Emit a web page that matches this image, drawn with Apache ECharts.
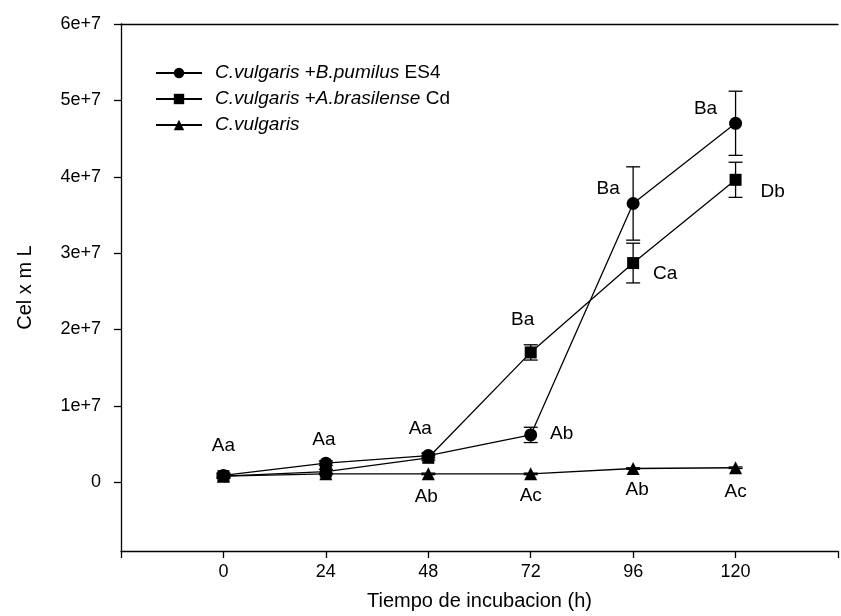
<!DOCTYPE html>
<html>
<head>
<meta charset="utf-8">
<script src="https://cdn.jsdelivr.net/npm/echarts@6/dist/echarts.min.js"></script>
<style>html,body{margin:0;padding:0;background:#fff;}#c{width:841px;height:616px;}</style>
</head>
<body>
<div id="c"></div>
<script>
// ---- data ----
var times = [0, 24, 48, 72, 96, 120];
var xTicks = [0, 24, 48, 72, 96, 120];
var yTicks = [0, 1e7, 2e7, 3e7, 4e7, 5e7, 6e7];
var pumilus = [0.9e6, 2.5e6, 3.5e6, 6.2e6, 3.65e7, 4.7e7];
var pumilusErr = [3e5, 3e5, 3e5, 1.0e6, 4.8e6, 4.2e6];
var brasilense = [0.8e6, 1.4e6, 3.2e6, 1.7e7, 2.87e7, 3.96e7];
var brasilenseErr = [3e5, 3e5, 3e5, 1.0e6, 2.6e6, 2.3e6];
var vulgaris = [0.8e6, 1.1e6, 1.1e6, 1.1e6, 1.8e6, 1.9e6];
var vulgarisErr = [1e5, 1e5, 1e5, 1e5, 1e5, 1e5];
var lettersPumilus = ['Aa', 'Aa', 'Aa', 'Ab', 'Ba', 'Ba'];
var lettersBrasilense = ['', '', '', 'Ba', 'Ca', 'Db'];
var lettersVulgaris = ['', '', 'Ab', 'Ac', 'Ab', 'Ac'];
var names = ['C.vulgaris +B.pumilus ES4', 'C.vulgaris +A.brasilense Cd', 'C.vulgaris'];

// ---- styling (label offsets in px) ----
var offPumilus = [[0,-30],[-2,-23],[-8,-27],[31,-1],[-25,-15],[-30,-15]];
var offBrasilense = [[0,0],[0,0],[0,0],[-8,-33],[32,11],[37,12]];
var offVulgaris = [[0,0],[0,0],[-2,23],[0,22],[4,21],[0,24]];
var FONT = 'Liberation Sans, Arial, sans-serif';

function pts(vals, letters, offs) {
  return times.map(function (t, i) {
    var d = { value: [t, vals[i]] };
    if (letters[i]) {
      d.label = { show: true, formatter: letters[i], position: 'inside', offset: offs[i],
        align: 'center', verticalAlign: 'middle', color: '#000', fontSize: 19, fontFamily: FONT };
    }
    return d;
  });
}
function errData(vals, errs) {
  return times.map(function (t, i) { return [t, vals[i], errs[i]]; });
}
function errSeries(vals, errs) {
  return {
    type: 'custom', z: 1, silent: true,
    data: errData(vals, errs),
    renderItem: function (params, api) {
      var x = api.value(0), y = api.value(1), e = api.value(2);
      var top = api.coord([x, y + e]), bot = api.coord([x, y - e]);
      var w = 7, st = { stroke: '#000', lineWidth: 1.3 };
      return { type: 'group', children: [
        { type: 'line', shape: { x1: top[0], y1: top[1], x2: bot[0], y2: bot[1] }, style: st },
        { type: 'line', shape: { x1: top[0] - w, y1: top[1], x2: top[0] + w, y2: top[1] }, style: st },
        { type: 'line', shape: { x1: bot[0] - w, y1: bot[1], x2: bot[0] + w, y2: bot[1] }, style: st }
      ]};
    }
  };
}
function lineSeries(name, vals, letters, offs, symbol, size) {
  return {
    type: 'line', name: name, z: 3, symbol: symbol, symbolSize: size, showAllSymbol: true,
    lineStyle: { color: '#000', width: 1.3 }, itemStyle: { color: '#000' },
    data: pts(vals, letters, offs), animation: false
  };
}

var chart = echarts.init(document.getElementById('c'), null, { renderer: 'canvas' });
chart.setOption({
  animation: false,
  backgroundColor: '#fff',
  grid: { left: 121, top: 24, width: 732, height: 527, containLabel: false },
  legend: {
    left: 150, top: 58, orient: 'vertical', itemWidth: 46, itemHeight: 13, itemGap: 6,
    data: names,
    textStyle: { fontSize: 19, fontFamily: FONT, color: '#000', lineHeight: 20, padding: [0, 0, 0, 8],
      rich: { i: { fontStyle: 'italic', fontSize: 19, fontFamily: FONT, color: '#000' },
              n: { fontSize: 19, fontFamily: FONT, color: '#000' } } },
    formatter: function (n) {
      if (n === names[0]) return '{i|C.vulgaris}{n| +}{i|B.pumilus}{n| ES4}';
      if (n === names[1]) return '{i|C.vulgaris}{n| +}{i|A.brasilense}{n| Cd}';
      return '{i|C.vulgaris}';
    }
  },
  xAxis: [{
    type: 'value', min: -24, max: 144, interval: 24, position: 'bottom',
    name: 'Tiempo de incubacion (h)', nameLocation: 'middle', nameGap: 40,
    nameTextStyle: { fontSize: 20, fontFamily: FONT, color: '#000' },
    axisLine: { onZero: false, lineStyle: { color: '#000', width: 1.3 } },
    axisTick: { show: true, length: 7, inside: false, lineStyle: { color: '#000', width: 1.3 } },
    axisLabel: { fontSize: 18, fontFamily: FONT, color: '#000', margin: 12,
      formatter: function (v) { return xTicks.indexOf(v) >= 0 ? String(v) : ''; } },
    splitLine: { show: false }
  }, {
    type: 'value', min: -24, max: 144, position: 'top',
    axisLine: { onZero: false, lineStyle: { color: '#000', width: 1.3 } },
    axisTick: { show: false }, axisLabel: { show: false }, splitLine: { show: false }
  }],
  yAxis: {
    type: 'value', min: -9e6, max: 6e7,
    name: 'Cel x m L', nameLocation: 'middle', nameGap: 86, nameRotate: 90,
    nameTextStyle: { fontSize: 20, fontFamily: FONT, color: '#000' },
    axisLine: { onZero: false, lineStyle: { color: '#000', width: 1.3 } },
    axisTick: { show: true, length: 7, customValues: yTicks, lineStyle: { color: '#000', width: 1.3 } },
    axisLabel: { fontSize: 18, fontFamily: FONT, color: '#000', margin: 20, customValues: yTicks,
      formatter: function (v) { return v === 0 ? '0' : (v / 1e7) + 'e+7'; } },
    splitLine: { show: false }
  },
  series: [
    errSeries(pumilus, pumilusErr),
    errSeries(brasilense, brasilenseErr),
    errSeries(vulgaris, vulgarisErr),
    lineSeries(names[0], pumilus, lettersPumilus, offPumilus, 'circle', 13),
    lineSeries(names[1], brasilense, lettersBrasilense, offBrasilense, 'rect', 12),
    lineSeries(names[2], vulgaris, lettersVulgaris, offVulgaris, 'triangle', 13)
  ]
});
</script>
</body>
</html>
